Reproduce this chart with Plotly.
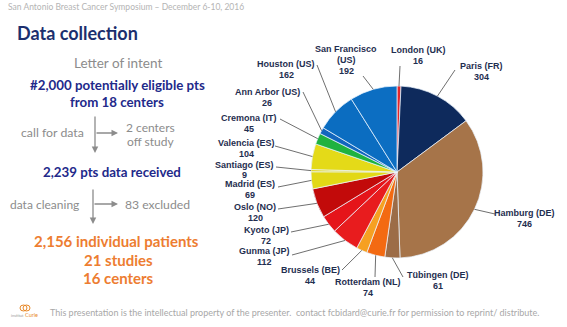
import math
import plotly.graph_objects as go

W, H = 567, 327

# ---- data ----
centers = ["London (UK)", "Paris (FR)", "Hamburg (DE)", "Tübingen (DE)", "Rotterdam (NL)",
           "Brussels (BE)", "Gunma (JP)", "Kyoto (JP)", "Oslo (NO)", "Madrid (ES)",
           "Santiago (ES)", "Valencia (ES)", "Cremona (IT)", "Ann Arbor (US)",
           "Houston (US)", "San Francisco<br>(US)"]
patients = [16, 304, 746, 61, 74, 44, 112, 72, 120, 69, 9, 104, 45, 26, 162, 192]

slice_colors = ["#E3262A", "#0E2A5C", "#A67449", "#9C6C47", "#F36A12", "#F6A022",
                "#E81C1E", "#E5141A", "#C20A0A", "#E2D816", "#E0D51E", "#E4DA18",
                "#1FB23F", "#1266BD", "#0B6DC1", "#0C6EC2"]

# label layout (pixel position of first text line centre, leader-line starts)
label_xy = [(418, 50), (481, 66), (524, 213), (438, 275), (368, 282),
            (310, 270), (264, 251), (266, 230), (255, 207), (250, 184),
            (244, 164.5), (246, 143), (249, 118), (267, 92), (286, 64), (346, 49)]
leader_from = [(400, 66), (455, 70), (495, 214), (403, 277), (375, 277),
               (342, 270), (292, 255), (291, 232), (278, 209), (278, 187),
               (276, 167), (275, 146), (280, 119), (303, 92), (317, 65), (363, 76)]
LINE_STEP = 10.8

# pie geometry (pixels)
CX, CY, R = 397, 172, 86

def px(x):
    return x / W

def py(y):
    return 1 - y / H

fig = go.Figure()
fig.add_trace(go.Pie(
    values=patients, labels=centers, sort=False, direction="clockwise", rotation=0,
    marker=dict(colors=slice_colors, line=dict(color="rgba(235,245,255,0.9)", width=0.8)),
    textinfo="none", hoverinfo="label+value", showlegend=False,
    domain=dict(x=[px(CX - R), px(CX + R)], y=[py(CY + R), py(CY - R)]),
))

shapes = []
annotations = []
total = sum(patients)
cum = 0
label_font = dict(family="Liberation Sans, Arial", size=9, color="#1F2E50")
for name, v, (lx, ly), (sx, sy) in zip(centers, patients, label_xy, leader_from):
    mid = (cum + v / 2) / total * 2 * math.pi
    cum += v
    tx = CX + R * math.sin(mid)
    ty = CY - R * math.cos(mid)
    shapes.append(dict(type="line", xref="paper", yref="paper",
                       x0=px(sx), y0=py(sy), x1=px(tx), y1=py(ty),
                       line=dict(color="#4a4a4a", width=0.8)))
    lines = name.split("<br>") + [str(v)]
    for i, t in enumerate(lines):
        annotations.append(dict(x=px(lx), y=py(ly + i * LINE_STEP), xref="paper", yref="paper",
                                text=f"<b>{t}</b>", showarrow=False,
                                xanchor="center", yanchor="middle", align="center",
                                font=label_font))

gray = "#8C8C8C"
navy = "#22298A"
orange = "#ED7D31"
lato = "Lato, Open Sans, sans-serif"

def txt(x, y, s, size, color, bold=False, anchor="center", family=lato):
    annotations.append(dict(x=px(x), y=py(y), xref="paper", yref="paper",
                            text=f"<b>{s}</b>" if bold else s, showarrow=False,
                            xanchor=anchor, yanchor="middle", align="center",
                            font=dict(family=family, size=size, color=color)))

txt(6, 7, "San Antonio Breast Cancer Symposium – December 6-10, 2016", 8.5, "#B4B4B4", anchor="left")
txt(15, 33, "Data collection", 18, "#1C2F6E", bold=True, anchor="left")
txt(118, 63, "Letter of intent", 13.5, gray)
txt(117, 85, "#2,000 potentially eligible pts", 13.3, navy, bold=True)
txt(117, 102, "from 18 centers", 13.3, navy, bold=True)
txt(52, 132, "call for data", 12.3, gray)
txt(150, 127, "2 centers", 12, gray)
txt(150, 141, "off study", 12, gray)
txt(112, 172, "2,239 pts data received", 13.3, navy, bold=True)
txt(44, 204, "data cleaning", 12, gray)
txt(157, 204, "83 excluded", 12.2, gray)
txt(116, 241, "2,156 individual patients", 15, orange, bold=True)
txt(118, 260, "21 studies", 15, orange, bold=True)
txt(118, 278, "16 centers", 15, orange, bold=True)
txt(48, 312, "This presentation is the intellectual property of the presenter.  contact fcbidard@curie.fr for permission to reprint/ distribute.",
    9, "#A8A8A8", anchor="left")
txt(9, 315, "institut", 4, "#999999", anchor="left")
txt(23, 315, "Curie", 5.5, "#E8892A", anchor="left")

# flow arrows
def arrow(x0, y0, x1, y1):
    annotations.append(dict(x=px(x1), y=py(y1), xref="paper", yref="paper",
                            ax=x0 - x1, ay=y0 - y1, axref="pixel", ayref="pixel",
                            text="", showarrow=True, arrowhead=2, arrowsize=1,
                            arrowwidth=1.3, arrowcolor=gray))

arrow(95, 115, 95, 153)
arrow(95, 133, 118, 133)
arrow(93, 188, 93, 224)
arrow(93, 204, 118, 204)

# logo glyph
shapes.append(dict(type="circle", xref="paper", yref="paper",
                   x0=px(20), x1=px(27), y0=py(305), y1=py(311),
                   line=dict(color="#E8892A", width=1)))
shapes.append(dict(type="circle", xref="paper", yref="paper",
                   x0=px(23), x1=px(30), y0=py(305), y1=py(311),
                   line=dict(color="#E8892A", width=1)))

fig.update_layout(width=W, height=H, margin=dict(l=0, r=0, t=0, b=0),
                  paper_bgcolor="white", plot_bgcolor="white",
                  shapes=shapes, annotations=annotations, showlegend=False)

fig.write_html("out.html")
